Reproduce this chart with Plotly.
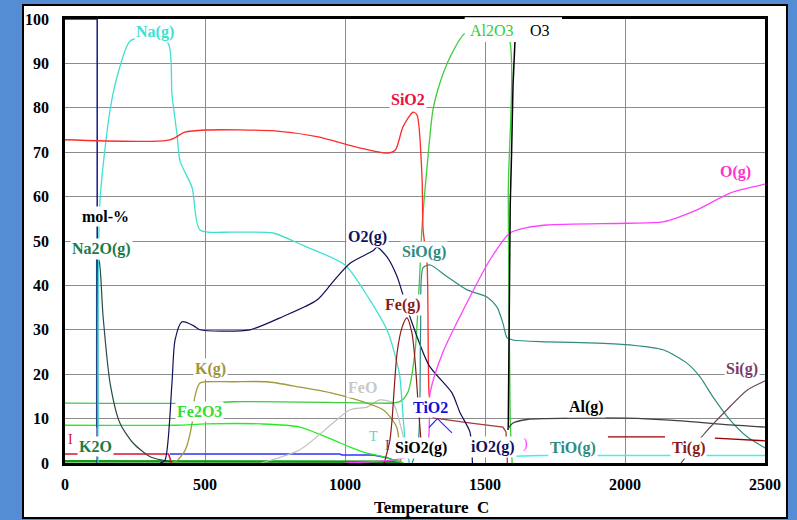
import plotly.graph_objects as go

# ---------------- data ----------------
navy_x = [0, 113, 115, 115]
navy_y = [100, 100, 100, 0]

na2o_bar_x = [115, 115]
na2o_bar_y = [8, 46]

na2o_g_x = [116, 122, 136, 161, 196, 243, 304, 350, 380]
na2o_g_y = [46, 45.5, 33, 18, 9, 4.5, 1.4, 0.6, 0.3]

na_g_x = [118, 125, 161, 186, 232, 300, 368, 382, 400, 411, 454, 482, 600, 743, 850, 1000, 1089, 1150, 1186, 1196, 1215, 1230]
na_g_y = [0, 59, 79.5, 87, 95, 96, 94.6, 83, 74, 68, 62, 52.5, 52, 51.8, 49, 44.6, 36.7, 30, 22.5, 19.4, 5, 0]

sio2_x = [0, 375, 428, 500, 750, 900, 1050, 1150, 1180, 1207, 1243, 1257, 1275, 1279, 1293, 1300, 1310]
sio2_y = [72.8, 72.8, 74.5, 75, 74.8, 73.5, 71, 69.8, 70.5, 75.7, 79, 78.4, 64.4, 52.5, 45, 15.8, 10.5]

sio2_tail_x = [1310, 1321, 1450, 1564, 1575, 1580]
sio2_tail_y = [10.5, 10.1, 9, 8.1, 7, 0]

al2o3_x = [0, 500, 600, 1000, 1100, 1171, 1200, 1225, 1250, 1265, 1275, 1295, 1314, 1339, 1375, 1429, 1500, 1578, 1583, 1590, 1597]
al2o3_y = [13.5, 13.5, 13.8, 13.6, 13.5, 13.5, 14, 16, 25, 40, 53, 68, 79.5, 85.6, 91.4, 96.8, 97, 97, 60, 10, 0]

o3_x = [1583, 1586, 1590, 1595, 1600, 1607]
o3_y = [7.5, 42, 58, 70, 85, 95]

al_g_x = [1580, 1600, 1650, 1720, 2000, 2200, 2350, 2500]
al_g_y = [7.5, 9, 9.8, 10, 10.1, 9.5, 8.7, 8.1]

o_g_x = [1000, 1100, 1200, 1290, 1304, 1350, 1446, 1520, 1589, 1650, 1721, 2007, 2136, 2257, 2375, 2500]
o_g_y = [0, 0.3, 1, 3, 15.8, 25, 37.4, 46, 51.8, 53, 53.6, 54, 54.3, 57, 60.8, 62.8]

o2_g_x = [340, 357, 382, 393, 418, 457, 482, 560, 661, 779, 900, 957, 1018, 1100, 1114, 1150, 1186, 1204, 1232, 1300, 1382, 1411, 1446, 1455]
o2_g_y = [0, 0.6, 18, 27.7, 31.8, 31, 30, 29.7, 30, 33, 36.7, 40.8, 45, 47.8, 48.6, 46.4, 42, 38.5, 32.9, 22, 15.8, 11.3, 7, 0]

sio_g_x = [1240, 1262, 1270, 1279, 1304, 1364, 1436, 1507, 1543, 1564, 1579, 1600, 1721, 1900, 2018, 2136, 2221, 2268, 2314, 2375, 2436, 2500]
sio_g_y = [0, 5, 30, 44, 44.6, 42, 39, 37.4, 35.1, 31.5, 28.2, 27.7, 27.3, 27, 26.6, 25.5, 22.5, 19.4, 14.9, 9.7, 5.9, 3.4]

fe_g_x = [1140, 1160, 1168, 1186, 1204, 1221, 1239, 1250, 1261, 1275]
fe_g_y = [0, 5, 9.7, 24.8, 30.6, 32.7, 29.3, 23.2, 13.5, 2]

k_g_x = [380, 400, 430, 454, 464, 482, 500, 600, 721, 839, 957, 1079, 1136, 1161, 1185, 1200]
k_g_y = [0, 0.5, 3, 9, 15, 18, 18.3, 18.3, 18.3, 17.1, 15.7, 13.5, 12, 10.4, 8, 0]

feo_x = [700, 839, 957, 1018, 1079, 1125, 1171, 1200, 1230]
feo_y = [0, 3, 9, 12, 12.6, 14.2, 13.5, 8, 0]

fe2o3_x = [0, 400, 500, 700, 839, 957, 1018, 1079, 1136, 1180, 1210]
fe2o3_y = [8.5, 8.5, 8.8, 8.8, 8.1, 5.2, 3.6, 2.2, 1.4, 0.5, 0]

tio2_x = [375, 700, 980, 990, 1100, 1150, 1200]
tio2_y = [2, 2, 2, 1.8, 1.8, 1.2, 0]

tio2_hi_x = [1300, 1330, 1382]
tio2_hi_y = [8, 10, 6.8]

k2o_x = [0, 370, 380]
k2o_y = [2, 2, 0]

si_g_x = [2200, 2286, 2364, 2436, 2500]
si_g_y = [0, 6.8, 12, 16.4, 18.5]

ti_g_x = [1939, 2143, None, 2321, 2500]
ti_g_y = [5.9, 5.9, None, 5.6, 5.0]

tio_g_x = [1600, 1700, 2000, 2500]
tio_g_y = [1.5, 1.7, 1.7, 1.7]

base_x = [0, 600, 1200]
base_y = [0.4, 0.4, 0.3]

x_ticks = [0, 500, 1000, 1500, 2000, 2500]
y_ticks = [0, 10, 20, 30, 40, 50, 60, 70, 80, 90, 100]

# name, x, y, colour, width, smooth
series = [
    ("base", base_x, base_y, "#119911", 2.5, False),
    ("K2O", k2o_x, k2o_y, "#E01030", 1.5, False),
    ("TiO2", tio2_x, tio2_y, "#3030FF", 1.5, False),
    ("Fe2O3", fe2o3_x, fe2o3_y, "#22EE22", 1.3, True),
    ("FeO", feo_x, feo_y, "#C0C0C0", 1.2, True),
    ("K(g)", k_g_x, k_g_y, "#A09A3A", 1.3, True),
    ("Al2O3", al2o3_x, al2o3_y, "#3CCC3C", 1.3, True),
    ("Na2O(g)", na2o_g_x, na2o_g_y, "#2A4A4A", 1.2, True),
    ("Na2O bar", na2o_bar_x, na2o_bar_y, "#2B7A8C", 2.5, False),
    ("navy", navy_x, navy_y, "#1A1A8C", 1.5, False),
    ("Na(g)", na_g_x, na_g_y, "#40E0D0", 1.3, True),
    ("SiO2", sio2_x, sio2_y, "#FF2A2A", 1.3, True),
    ("SiO2 tail", sio2_tail_x, sio2_tail_y, "#A83A3A", 1.3, False),
    ("O2(g)", o2_g_x, o2_g_y, "#10105A", 1.2, True),
    ("SiO(g)", sio_g_x, sio_g_y, "#2E8B80", 1.2, True),
    ("Fe(g)", fe_g_x, fe_g_y, "#8B1A1A", 1.2, True),
    ("O(g)", o_g_x, o_g_y, "#FF40FF", 1.3, True),
    ("TiO2 hi", tio2_hi_x, tio2_hi_y, "#3030FF", 1.2, False),
    ("O3", o3_x, o3_y, "#000000", 1.5, False),
    ("Al(g)", al_g_x, al_g_y, "#404040", 1.3, True),
    ("Si(g)", si_g_x, si_g_y, "#6A4A5A", 1.2, True),
    ("Ti(g)", ti_g_x, ti_g_y, "#990000", 1.3, False),
    ("TiO(g)", tio_g_x, tio_g_y, "#40F0F0", 1.5, False),
]

labels = [
    ("Na(g)", 321, 97.1, "#40E0D0"),
    ("SiO2", 1225, 81.8, "#E8103A"),
    ("O(g)", 2393, 65.5, "#FF33CC"),
    ("mol-%", 143, 55.6, "#000000"),
    ("Na2O(g)", 132, 48.2, "#1E7A46"),
    ("O2(g)", 1082, 50.9, "#101060"),
    ("SiO(g)", 1282, 47.5, "#2E8B80"),
    ("Fe(g)", 1207, 35.6, "#8B1A1A"),
    ("K(g)", 518, 21.2, "#A0943A"),
    ("FeO", 1061, 16.9, "#C8C8C8"),
    ("Fe2O3", 482, 11.5, "#33DD33"),
    ("TiO2", 1304, 12.4, "#1010DD"),
    ("Al(g)", 1864, 12.6, "#000000"),
    ("Si(g)", 2418, 21.2, "#7B3B6B"),
    ("K2O", 110, 3.8, "#1E7A46"),
    ("SiO2(g)", 1270, 3.4, "#000000"),
    ("iO2(g)", 1529, 3.6, "#101060"),
    ("TiO(g)", 1814, 3.4, "#2E8B80"),
    ("Ti(g)", 2225, 3.4, "#8B1A1A"),
]

small_marks = [
    ("I", 18, 5.2, "#E01030"),
    ("I", 1150, 4.0, "#7B3B6B"),
    ("T", 1100, 5.9, "#40E0D0"),
    (")", 1643, 4.3, "#FF40FF"),
]

top_labels = [
    ("Al2O3", 1525, 97.4, "#33CC33"),
    ("O3", 1696, 97.4, "#000000"),
]

# ---------------- figure ----------------
fig = go.Figure()
for name, xs, ys, col, w, smooth in series:
    line = dict(color=col, width=w)
    if smooth:
        line.update(shape="spline", smoothing=0.7)
    fig.add_trace(go.Scatter(x=xs, y=ys, mode="lines", name=name,
                             line=line, showlegend=False, hoverinfo="skip"))

serif = "Liberation Serif"
ann = []
for t, x, y, c in labels:
    ann.append(dict(x=x, y=y, text=t, showarrow=False, xref="x", yref="y",
                    font=dict(family=serif, size=16, color=c, weight="bold"),
                    bgcolor="white", borderpad=1))
for t, x, y, c in small_marks:
    ann.append(dict(x=x, y=y, text=t, showarrow=False, xref="x", yref="y",
                    font=dict(family=serif, size=14, color=c)))
for t, x, y, c in top_labels:
    ann.append(dict(x=x, y=y, text=t, showarrow=False, xref="x", yref="y",
                    font=dict(family=serif, size=16, color=c)))
ann.append(dict(x=0.524, y=-0.101, xref="paper", yref="paper", showarrow=False,
                yanchor="middle",
                text="Temperature&nbsp;&nbsp;C",
                font=dict(family=serif, size=17, color="black", weight="bold")))

shapes = [
    # white panel behind the chart
    dict(type="rect", xref="paper", yref="paper", x0=-0.06, x1=1.0314,
         y0=-0.124, y1=1.0315, fillcolor="white",
         line=dict(color="black", width=2), layer="below"),
    # white box behind the Al2O3 / O3 labels
    dict(type="rect", xref="paper", yref="paper", x0=0.571, x1=0.71,
         y0=0.948, y1=1.004, fillcolor="white", line=dict(width=0),
         layer="above"),
]

fig.update_layout(
    width=797, height=520,
    margin=dict(l=65, r=32, t=19, b=57),
    paper_bgcolor="#548DD4",
    plot_bgcolor="white",
    annotations=ann,
    shapes=shapes,
    xaxis=dict(range=[0, 2500], tickvals=x_ticks, showgrid=True,
               gridcolor="#8C8C8C", gridwidth=1, zeroline=False,
               showline=True, linecolor="black", linewidth=2.5, mirror=True,
               ticks="", ticklabelstandoff=5,
               tickfont=dict(family=serif, size=16, color="black", weight="bold")),
    yaxis=dict(range=[0, 100], tickvals=y_ticks, showgrid=True,
               gridcolor="#8C8C8C", gridwidth=1, zeroline=False,
               showline=True, linecolor="black", linewidth=2.5, mirror=True,
               ticks="", ticklabelstandoff=10,
               tickfont=dict(family=serif, size=16, color="black", weight="bold")),
)

fig.write_html("out.html")
